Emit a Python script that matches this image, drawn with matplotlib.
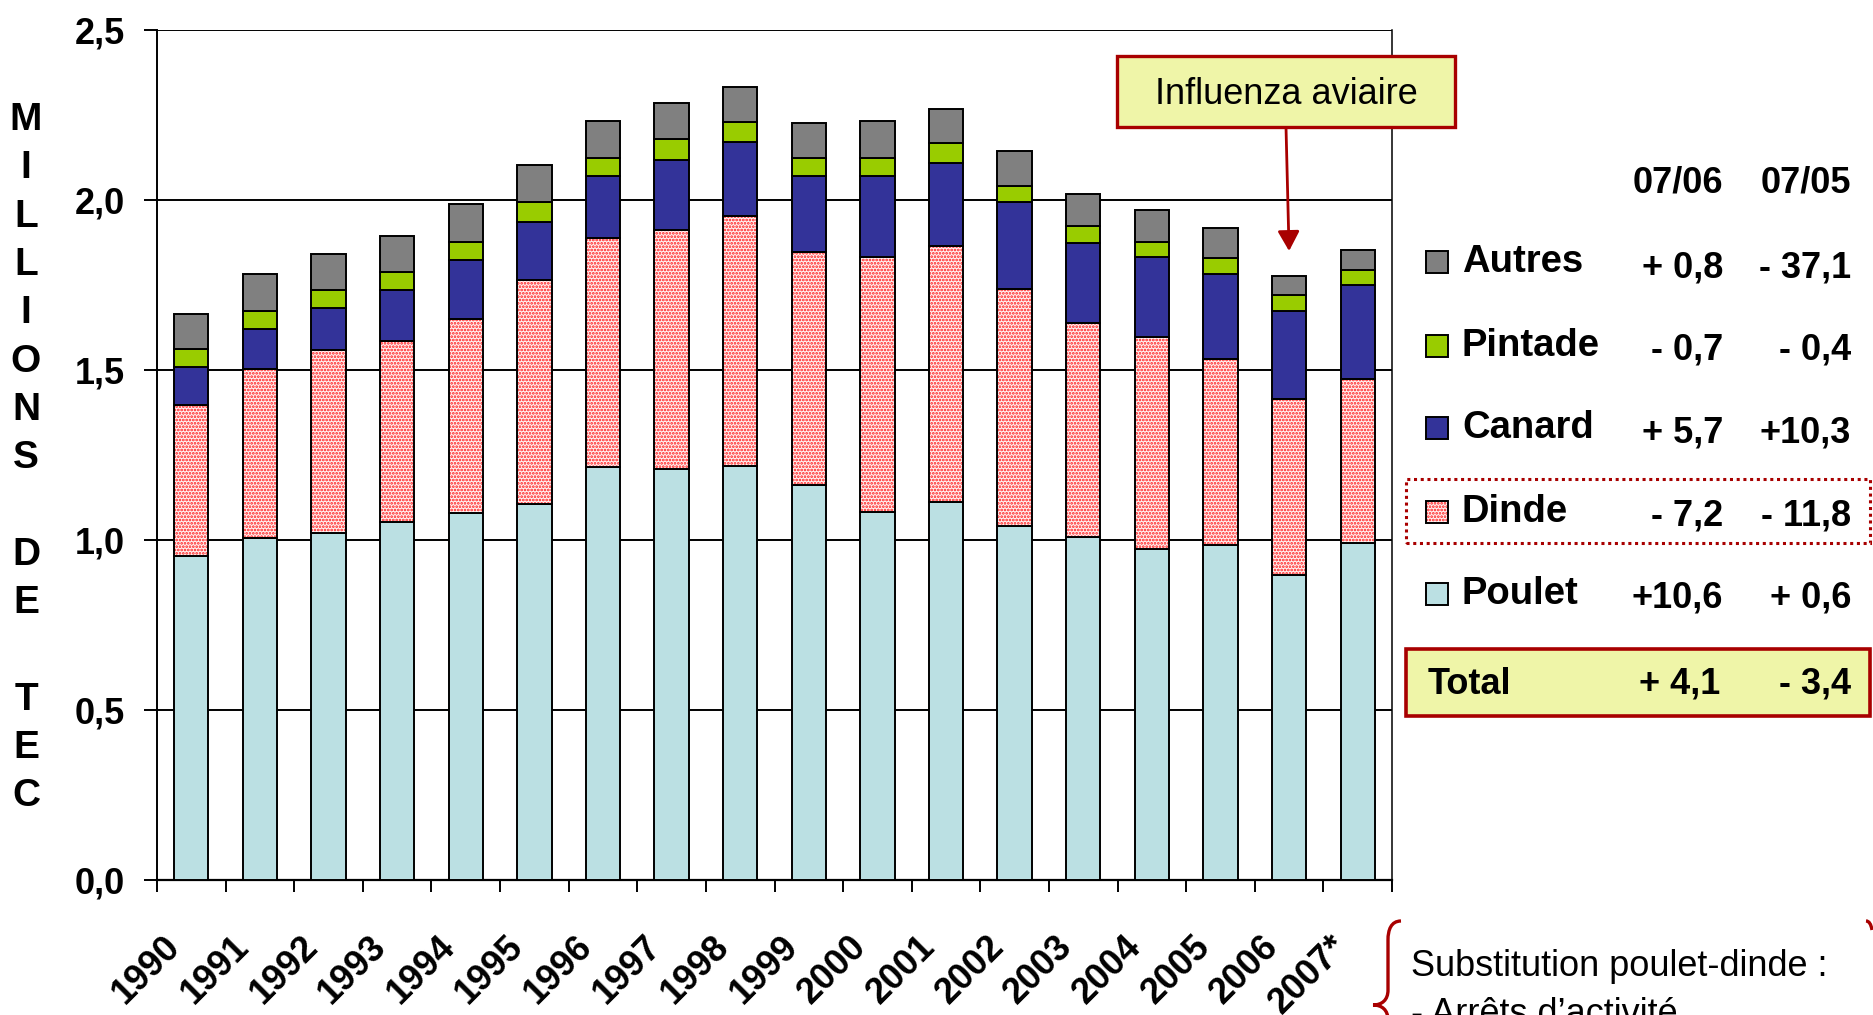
import matplotlib
matplotlib.use('Agg')
import matplotlib.pyplot as plt
from matplotlib.patches import Rectangle, PathPatch
from matplotlib.path import Path
from matplotlib.transforms import ScaledTranslation
import numpy as np

plt.rcParams['font.family'] = ['Liberation Sans', 'DejaVu Sans']
plt.rcParams['hatch.linewidth'] = 1.3

# ---------------- data ----------------
years = ['1990', '1991', '1992', '1993', '1994', '1995', '1996', '1997', '1998',
         '1999', '2000', '2001', '2002', '2003', '2004', '2005', '2006', '2007*']
poulet  = [0.954, 1.007, 1.021, 1.054, 1.078, 1.107, 1.214, 1.208, 1.219,
           1.161, 1.083, 1.113, 1.042, 1.008, 0.973, 0.984, 0.898, 0.990]
dinde   = [0.443, 0.495, 0.537, 0.532, 0.573, 0.658, 0.673, 0.704, 0.735,
           0.685, 0.750, 0.752, 0.697, 0.631, 0.625, 0.548, 0.517, 0.484]
canard  = [0.113, 0.120, 0.123, 0.149, 0.173, 0.170, 0.185, 0.206, 0.218,
           0.226, 0.239, 0.243, 0.256, 0.236, 0.235, 0.249, 0.260, 0.277]
pintade = [0.052, 0.053, 0.053, 0.053, 0.052, 0.060, 0.053, 0.060, 0.058,
           0.053, 0.053, 0.059, 0.047, 0.050, 0.044, 0.048, 0.047, 0.042]
autres  = [0.103, 0.107, 0.108, 0.107, 0.113, 0.107, 0.107, 0.107, 0.103,
           0.102, 0.107, 0.101, 0.102, 0.094, 0.094, 0.090, 0.054, 0.060]

yticks = [0.0, 0.5, 1.0, 1.5, 2.0, 2.5]
ytick_labels = ['0,0', '0,5', '1,0', '1,5', '2,0', '2,5']

legend_names = ['Autres', 'Pintade', 'Canard', 'Dinde', 'Poulet']
var_0706 = ['+ 0,8', '- 0,7', '+ 5,7', '- 7,2', '+10,6']
var_0705 = ['- 37,1', '- 0,4', '+10,3', '- 11,8', '+ 0,6']
total_0706 = '+ 4,1'
total_0705 = '- 3,4'

# ---------------- styles ----------------
C_POULET = '#BBE0E3'
C_DINDE_BG = '#FFF2F2'
C_DINDE_DOT = '#FF1A1A'
C_CANARD = '#333399'
C_PINTADE = '#99CC00'
C_AUTRES = '#808080'
DARKRED = '#A80000'
YELLOW = '#EFF5A8'

W, H = 1873, 1015
fig = plt.figure(figsize=(W / 100, H / 100), dpi=100)

def fx(px):
    return px / W

def fy(py):
    return 1 - py / H

ax = fig.add_axes([fx(157), fy(880), fx(1392) - fx(157), fy(30) - fy(880)])

x = np.arange(len(years))
bw = 0.5
elw = 1.4
bottom = np.zeros(len(years))
ax.bar(x, poulet, bw, bottom=bottom, color=C_POULET, edgecolor='black', lw=elw, zorder=3)
bottom += np.array(poulet)
ax.bar(x, dinde, bw, bottom=bottom, color=C_DINDE_BG, edgecolor=C_DINDE_DOT,
       hatch='.....', lw=0, zorder=3)
ax.bar(x, dinde, bw, bottom=bottom, facecolor='none', edgecolor='black', lw=elw, zorder=4)
bottom += np.array(dinde)
ax.bar(x, canard, bw, bottom=bottom, color=C_CANARD, edgecolor='black', lw=elw, zorder=3)
bottom += np.array(canard)
ax.bar(x, pintade, bw, bottom=bottom, color=C_PINTADE, edgecolor='black', lw=elw, zorder=3)
bottom += np.array(pintade)
ax.bar(x, autres, bw, bottom=bottom, color=C_AUTRES, edgecolor='black', lw=elw, zorder=3)

ax.set_xlim(-0.5, len(years) - 0.5)
ax.set_ylim(0, 2.5)
ax.set_yticks(yticks)
ax.set_yticklabels(ytick_labels, fontsize=26, fontweight='bold')
ax.yaxis.grid(True, color='black', lw=1.4, zorder=0)
ax.set_axisbelow(True)
ax.tick_params(axis='y', direction='out', length=9.4, width=1.4, pad=14)

ax.set_xticks(x)
ax.set_xticklabels(years, fontsize=26, fontweight='bold', rotation=45,
                   ha='right', va='center', rotation_mode='anchor')
ax.tick_params(axis='x', which='major', length=0, pad=44)
shift = ScaledTranslation(-0.16, 0, fig.dpi_scale_trans)
for lab in ax.get_xticklabels():
    lab.set_transform(lab.get_transform() + shift)
ax.set_xticks(np.arange(-0.5, len(years), 1.0), minor=True)
ax.tick_params(axis='x', which='minor', direction='out', length=8.6, width=1.4)

ax.spines['top'].set_visible(False)
ax.spines['left'].set_linewidth(1.4)
ax.spines['bottom'].set_linewidth(1.6)
ax.spines['right'].set_linewidth(1.1)

# vertical y label
letters = ['M', 'I', 'L', 'L', 'I', 'O', 'N', 'S', '', 'D', 'E', '', 'T', 'E', 'C']
for i, ch in enumerate(letters):
    if ch:
        fig.text(fx(26), fy(120 + i * 48.3), ch, ha='center', va='center',
                 fontsize=28, fontweight='bold')

# Influenza aviaire box + arrow
fig.patches.append(Rectangle((fx(1117), fy(127)), fx(1455) - fx(1117), fy(56) - fy(127),
                             transform=fig.transFigure, facecolor=YELLOW,
                             edgecolor=DARKRED, lw=2.4, zorder=5))
fig.text(fx(1286), fy(94), 'Influenza aviaire', ha='center', va='center',
         fontsize=26, zorder=6)
ax.annotate('', xy=(16, 1.85), xycoords='data',
            xytext=(fx(1286), fy(127)), textcoords='figure fraction',
            arrowprops=dict(arrowstyle='-|>,head_length=0.6,head_width=0.33',
                            color=DARKRED, lw=2.0, mutation_scale=20,
                            shrinkA=0, shrinkB=0), zorder=6)

# legend table
fig.text(fx(1678), fy(183), '07/06', ha='center', va='center', fontsize=26, fontweight='bold')
fig.text(fx(1806), fy(183), '07/05', ha='center', va='center', fontsize=26, fontweight='bold')

row_y = [262, 346, 428, 512, 594]
val_y = [268, 350, 433, 516, 598]
sq_colors = [C_AUTRES, C_PINTADE, C_CANARD, C_DINDE_BG, C_POULET]
for i, name in enumerate(legend_names):
    yc = row_y[i]
    sq = ((fx(1426), fy(yc + 11)), fx(1448) - fx(1426), fy(yc - 11) - fy(yc + 11))
    if name == 'Dinde':
        fig.patches.append(Rectangle(*sq, transform=fig.transFigure, facecolor=C_DINDE_BG,
                                     edgecolor=C_DINDE_DOT, hatch='.....', lw=0))
        fig.patches.append(Rectangle(*sq, transform=fig.transFigure, facecolor='none',
                                     edgecolor='black', lw=1.4))
    else:
        fig.patches.append(Rectangle(*sq, transform=fig.transFigure, facecolor=sq_colors[i],
                                     edgecolor='black', lw=1.4))
    fig.text(fx(1462), fy(yc), name, ha='left', va='center', fontsize=27.5, fontweight='bold')
    fig.text(fx(1723), fy(val_y[i]), var_0706[i], ha='right', va='center', fontsize=26, fontweight='bold')
    fig.text(fx(1851), fy(val_y[i]), var_0705[i], ha='right', va='center', fontsize=26, fontweight='bold')

# dotted box around Dinde
fig.patches.append(Rectangle((fx(1406), fy(543)), fx(1870) - fx(1406), fy(479) - fy(543),
                             transform=fig.transFigure, facecolor='none',
                             edgecolor=DARKRED, lw=2.2, linestyle=(0, (1, 1.2))))

# Total box
fig.patches.append(Rectangle((fx(1406), fy(716)), fx(1870) - fx(1406), fy(649) - fy(716),
                             transform=fig.transFigure, facecolor=YELLOW,
                             edgecolor=DARKRED, lw=2.6))
fig.text(fx(1428), fy(684), 'Total', ha='left', va='center', fontsize=26, fontweight='bold')
fig.text(fx(1720), fy(684), total_0706, ha='right', va='center', fontsize=26, fontweight='bold')
fig.text(fx(1851), fy(684), total_0705, ha='right', va='center', fontsize=26, fontweight='bold')

# brace + bottom note
def P(px, py):
    return (fx(px), fy(py))

verts = [P(1401, 921), P(1391, 921), P(1388, 930), P(1388, 940),
         P(1388, 990),
         P(1388, 1000), P(1382, 1005), P(1373, 1005),
         P(1382, 1005), P(1388, 1010), P(1388, 1020),
         P(1388, 1080)]
codes = [Path.MOVETO, Path.CURVE4, Path.CURVE4, Path.CURVE4,
         Path.LINETO,
         Path.CURVE4, Path.CURVE4, Path.CURVE4,
         Path.CURVE4, Path.CURVE4, Path.CURVE4,
         Path.LINETO]
fig.patches.append(PathPatch(Path(verts, codes), transform=fig.transFigure,
                             facecolor='none', edgecolor=DARKRED, lw=2.4))
verts2 = [P(1866, 921), P(1869, 921), P(1871, 924), P(1872, 930)]
codes2 = [Path.MOVETO, Path.CURVE4, Path.CURVE4, Path.CURVE4]
fig.patches.append(PathPatch(Path(verts2, codes2), transform=fig.transFigure,
                             facecolor='none', edgecolor=DARKRED, lw=2.4))

fig.text(fx(1411), fy(966), 'Substitution poulet-dinde :', ha='left', va='center', fontsize=26)
fig.text(fx(1411), fy(1014), '- Arrêts d’activité', ha='left', va='center', fontsize=26)

fig.savefig('out.png', dpi=100)
